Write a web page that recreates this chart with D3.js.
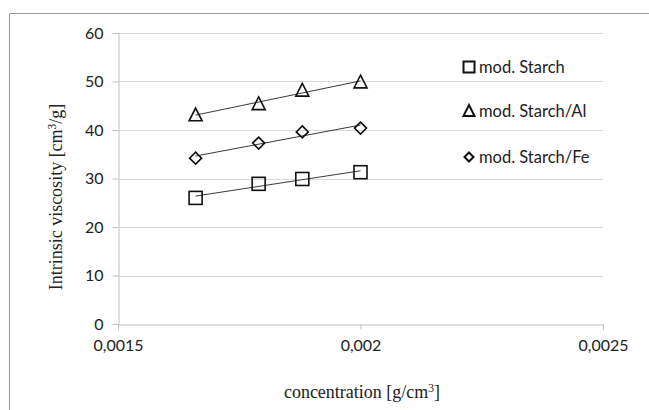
<!DOCTYPE html>
<html>
<head>
<meta charset="UTF-8">
<title>Intrinsic viscosity</title>
<script src="https://cdn.jsdelivr.net/npm/d3@7"></script>
<style type="text/css">
	body {
		margin: 0;
		background-color: white;
	}
	.tick text { font-family: Lato, "Open Sans", sans-serif; font-size: 16px; fill: #222; }
	.ttl { font-family: "Liberation Serif", "Times New Roman", serif; font-size: 18px; fill: #222; }
	.leg { font-family: Lato, "Open Sans", sans-serif; font-size: 16.5px; fill: #222; }
</style>
</head>
<body>
<script type="text/javascript">

// data
var conc = [0.00166, 0.00179, 0.00188, 0.0020];
var starch = [26.0, 28.9, 29.9, 31.3];
var starchAl = [43.1, 45.4, 48.2, 49.9];
var starchFe = [34.2, 37.3, 39.6, 40.4];
var seriesNames = ['mod. Starch', 'mod. Starch/Al', 'mod. Starch/Fe'];
var xTicks = [0.0015, 0.002, 0.0025];
var xTickLabels = ['0,0015', '0,002', '0,0025'];
var yTicks = [0, 10, 20, 30, 40, 50, 60];

var large = 649, haut = 410;
var pL = 118, pR = 603, pT = 33, pB = 324;

var series = [
	{name: seriesNames[0], vals: starch, shape: 'square'},
	{name: seriesNames[1], vals: starchAl, shape: 'triangle'},
	{name: seriesNames[2], vals: starchFe, shape: 'diamond'}
];

var x = d3.scaleLinear().domain([0.0015, 0.0025]).range([pL, pR]);
var y = d3.scaleLinear().domain([0, 60]).range([pB, pT]);

var svg = d3.select('body').append('svg')
	.attr('width', large)
	.attr('height', haut);

// chart border (only top and left visible in the crop)
svg.append('path')
	.attr('d', 'M9.5,' + haut + 'V13.5H' + large)
	.attr('fill', 'none')
	.attr('stroke', '#9a9a9a');

// gridlines
svg.append('g').selectAll('line')
	.data(yTicks.slice(1)).enter().append('line')
	.attr('x1', pL).attr('x2', pR)
	.attr('y1', function(d){ return Math.round(y(d)) + 0.5; })
	.attr('y2', function(d){ return Math.round(y(d)) + 0.5; })
	.attr('stroke', '#d9d9d9');

// axes
var gy = svg.append('g')
	.attr('transform', 'translate(' + (pL + 0.5) + ',0)')
	.call(d3.axisLeft(y).tickValues(yTicks).tickSize(6).tickPadding(9));
var gx = svg.append('g')
	.attr('transform', 'translate(0,' + (pB + 0.5) + ')')
	.call(d3.axisBottom(x).tickValues(xTicks).tickSize(5).tickPadding(10)
		.tickFormat(function(d, i){ return xTickLabels[i]; }));
[gy, gx].forEach(function(g){
	g.select('.domain').attr('stroke', '#bfbfbf');
	g.selectAll('.tick line').attr('stroke', '#bfbfbf');
});
gy.selectAll('.tick text').attr('dy', '0.34em');

// axis titles
svg.append('text').attr('class', 'ttl')
	.attr('x', 362).attr('y', 398)
	.attr('text-anchor', 'middle')
	.html('concentration [g/cm<tspan font-size="11.5" dy="-6">3</tspan><tspan dy="6">]</tspan>');
svg.append('text').attr('class', 'ttl')
	.attr('transform', 'translate(62,' + 197 + ') rotate(-90)')
	.attr('text-anchor', 'middle')
	.html('Intrinsic viscosity [cm<tspan font-size="11.5" dy="-6">3</tspan><tspan dy="6">/g]</tspan>');

function marker(sel, shape, s) {
	if (shape == 'square') {
		sel.append('rect').attr('x', -s/2).attr('y', -s/2).attr('width', s).attr('height', s);
	} else if (shape == 'triangle') {
		var h = s * 0.9;
		sel.append('path').attr('d', 'M0,' + (-h/2 - 1) + 'L' + (s/2) + ',' + (h/2) + 'L' + (-s/2) + ',' + (h/2) + 'Z');
	} else {
		var r = s / 2;
		sel.append('path').attr('d', 'M0,' + (-r) + 'L' + r + ',0L0,' + r + 'L' + (-r) + ',0Z');
	}
}

// linear trendline (least squares) over the data range
function trend(pts) {
	var mx = d3.mean(pts, function(d){ return d[0]; });
	var my = d3.mean(pts, function(d){ return d[1]; });
	var sxy = d3.sum(pts, function(d){ return (d[0] - mx) * (d[1] - my); });
	var sxx = d3.sum(pts, function(d){ return (d[0] - mx) * (d[0] - mx); });
	var b = sxy / sxx, a = my - b * mx;
	var ex = d3.extent(pts, function(d){ return d[0]; });
	return ex.map(function(v){ return [v, a + b * v]; });
}

var line = d3.line()
	.x(function(d){ return x(d[0]); })
	.y(function(d){ return y(d[1]); });

series.forEach(function(s){
	var pts = conc.map(function(c, i){ return [c, s.vals[i]]; });
	svg.append('path')
		.attr('d', line(trend(pts)))
		.attr('fill', 'none')
		.attr('stroke', '#3a3a3a')
		.attr('stroke-width', 1);
	var size = s.shape == 'square' ? 13 : (s.shape == 'triangle' ? 13 : 12);
	svg.append('g').selectAll('g')
		.data(pts).enter().append('g')
		.attr('transform', function(d){ return 'translate(' + x(d[0]) + ',' + y(d[1]) + ')'; })
		.each(function(){ marker(d3.select(this), s.shape, size); })
		.selectAll('rect,path')
		.attr('fill', 'none')
		.attr('stroke', '#111')
		.attr('stroke-width', 1.6);
});

// legend
var legY = [67, 111, 157];
var leg = svg.append('g').selectAll('g')
	.data(series).enter().append('g')
	.attr('transform', function(d, i){ return 'translate(469,' + legY[i] + ')'; });
leg.each(function(d){ marker(d3.select(this), d.shape, d.shape == 'diamond' ? 9 : 11); })
	.selectAll('rect,path')
	.attr('fill', 'none')
	.attr('stroke', '#111')
	.attr('stroke-width', 2);
leg.append('text').attr('class', 'leg')
	.attr('x', 10).attr('y', 0).attr('dy', '0.35em')
	.text(function(d){ return d.name; });

</script>
</body>
</html>
